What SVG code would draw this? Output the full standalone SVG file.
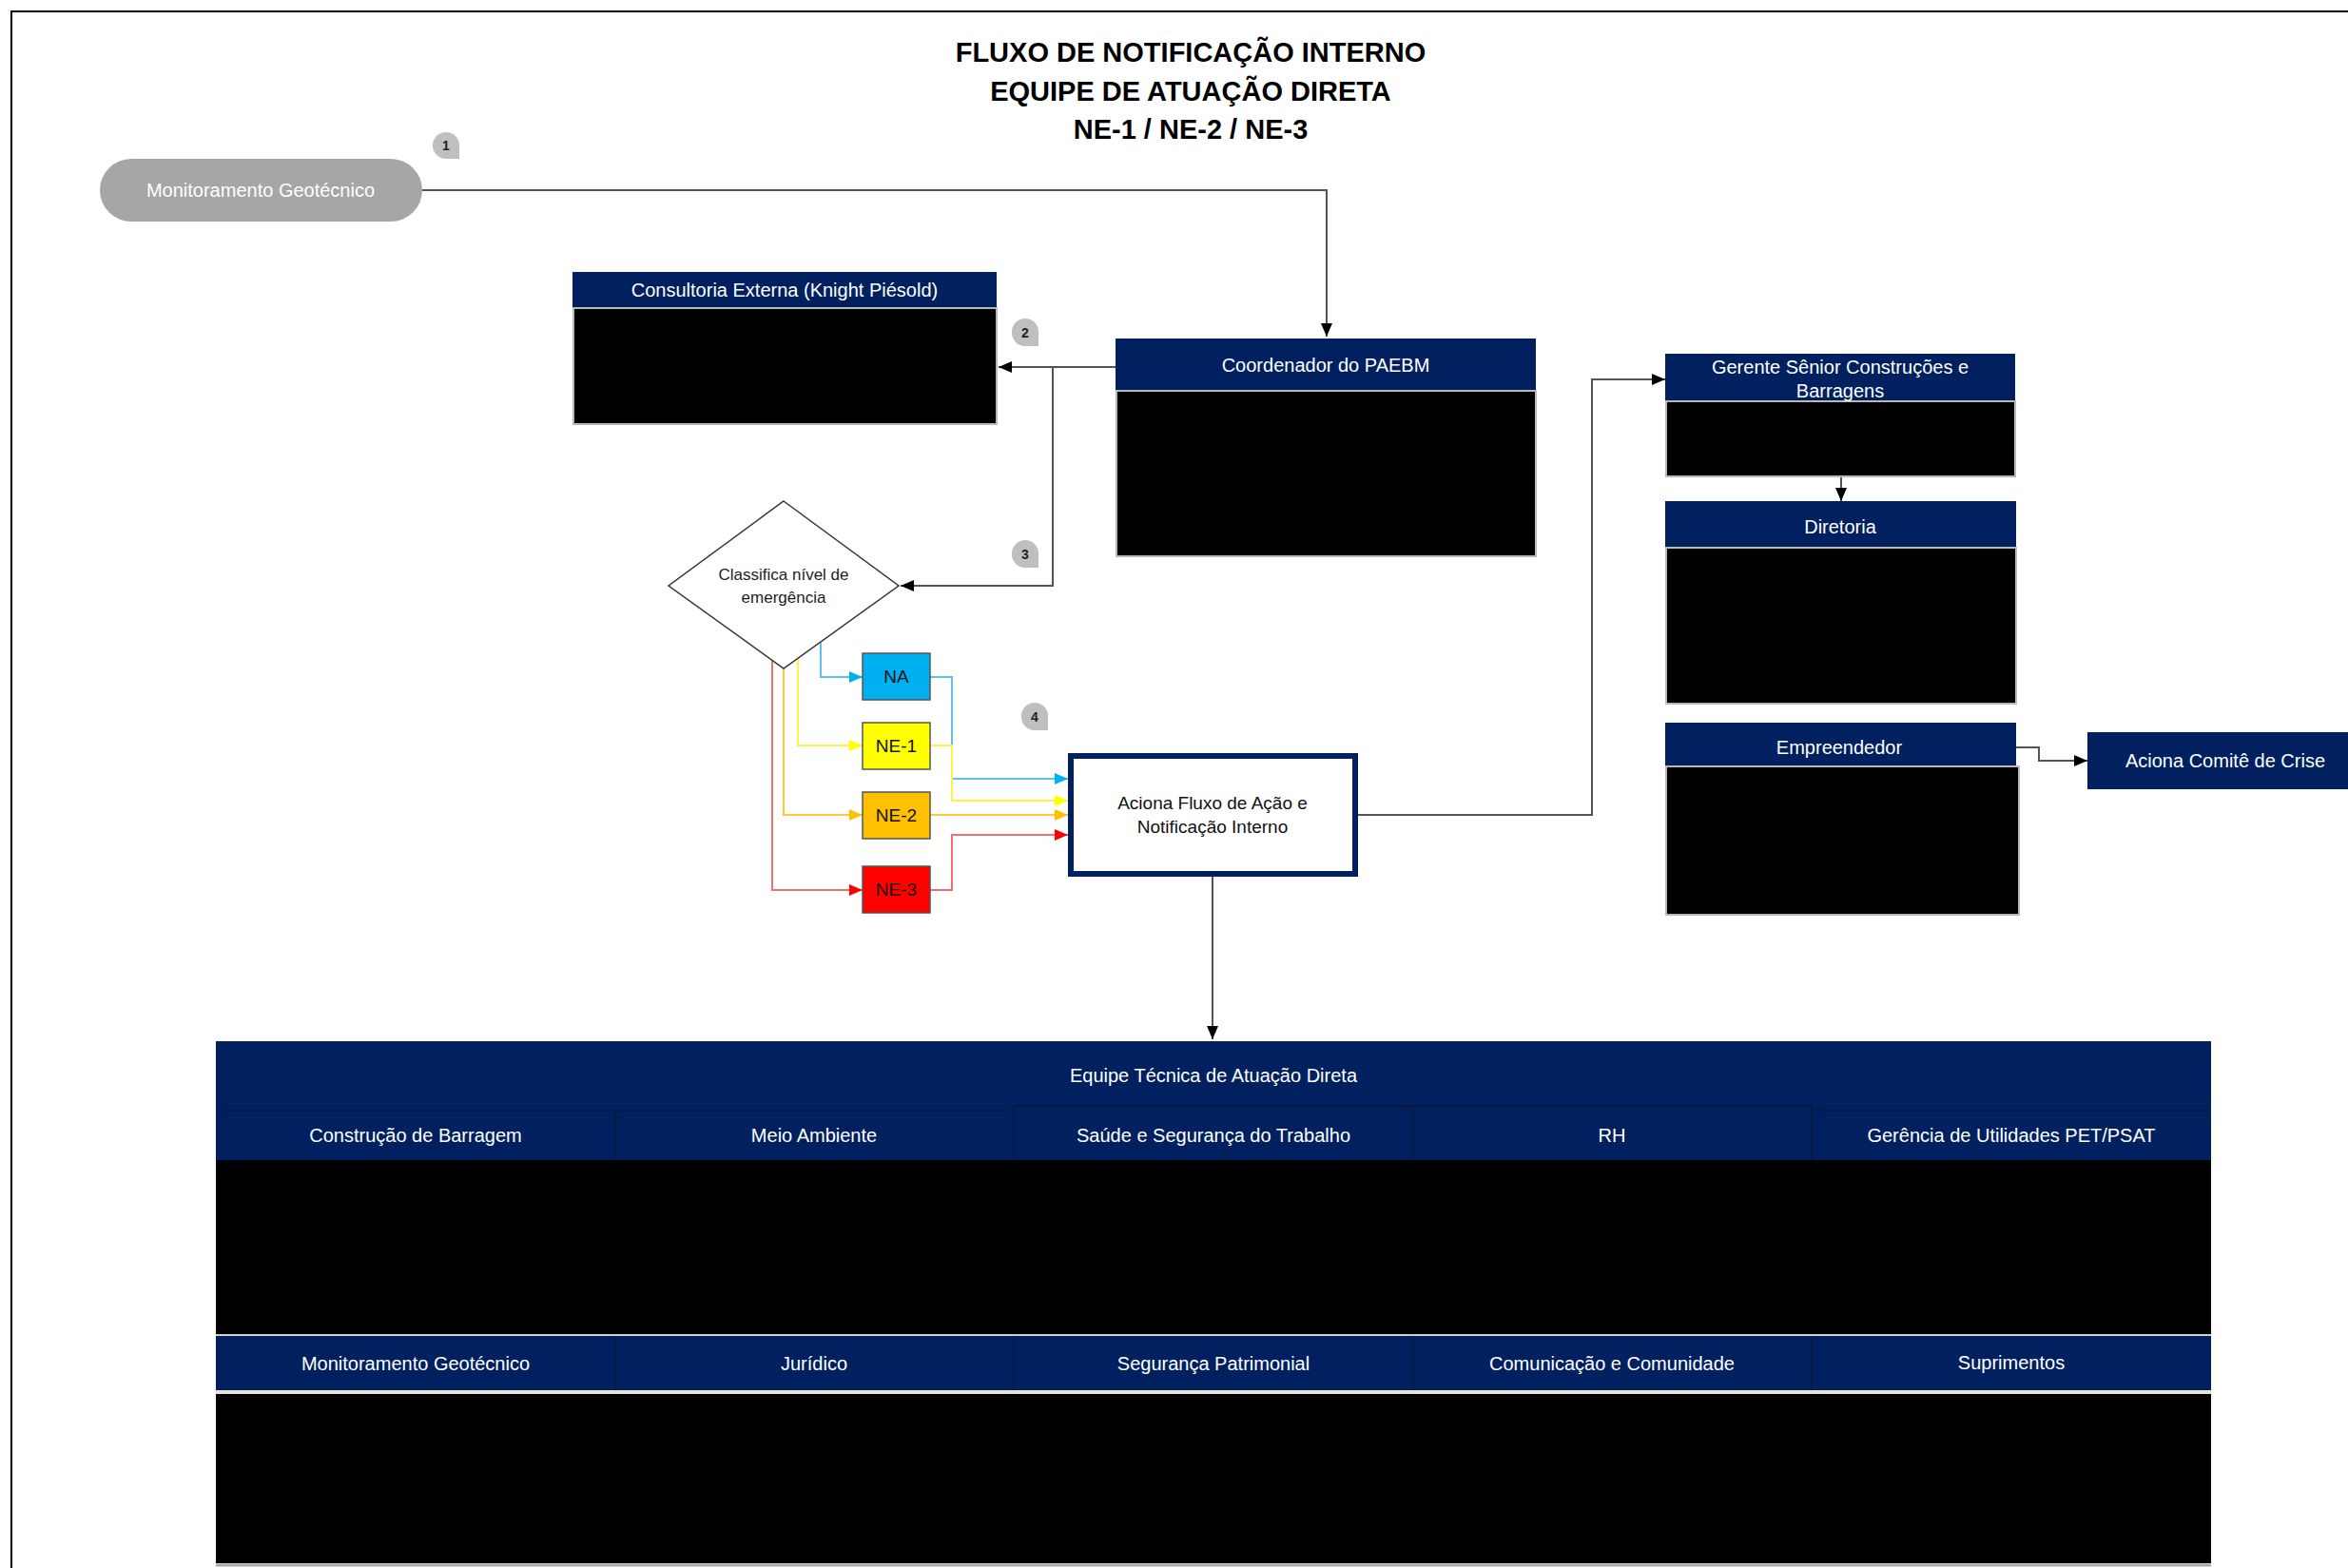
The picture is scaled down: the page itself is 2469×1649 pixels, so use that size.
<svg xmlns="http://www.w3.org/2000/svg" width="2469" height="1649" viewBox="0 0 2469 1649">
<defs>
<style>
text{font-family:"Liberation Sans",Arial,sans-serif;}
.t{font-size:20px;fill:#ffffff;text-anchor:middle;}
.td{font-size:19px;fill:#111111;text-anchor:middle;}
.title{font-size:29px;font-weight:bold;fill:#000;text-anchor:middle;}
.hd{fill:#002060;}
.body{fill:#000000;stroke:#b8b8b8;stroke-width:2;}
.badge{fill:#bfbfbf;}
.bn{font-size:14px;font-weight:bold;fill:#222;text-anchor:middle;}
.ln{fill:none;stroke:#555;stroke-width:2;}
.c{fill:none;stroke-width:2;}
</style>
<marker id="ab" markerUnits="userSpaceOnUse" markerWidth="14" markerHeight="12" refX="14" refY="6" orient="auto"><path d="M0,0 L14,6 L0,12 z" fill="#000"/></marker>
<marker id="ablue" markerUnits="userSpaceOnUse" markerWidth="14" markerHeight="12" refX="14" refY="6" orient="auto"><path d="M0,0 L14,6 L0,12 z" fill="#00b0f0"/></marker>
<marker id="ayel" markerUnits="userSpaceOnUse" markerWidth="14" markerHeight="12" refX="14" refY="6" orient="auto"><path d="M0,0 L14,6 L0,12 z" fill="#ffff00"/></marker>
<marker id="aor" markerUnits="userSpaceOnUse" markerWidth="14" markerHeight="12" refX="14" refY="6" orient="auto"><path d="M0,0 L14,6 L0,12 z" fill="#ffc000"/></marker>
<marker id="ared" markerUnits="userSpaceOnUse" markerWidth="14" markerHeight="12" refX="14" refY="6" orient="auto"><path d="M0,0 L14,6 L0,12 z" fill="#ff0000"/></marker>
</defs>
<rect x="0" y="0" width="2469" height="1649" fill="#ffffff"/>
<path d="M12,1649 V12 H2469" fill="none" stroke="#000" stroke-width="2"/>

<g id="title">
<text class="title" x="1252" y="65">FLUXO DE NOTIFICAÇÃO INTERNO</text>
<text class="title" x="1252" y="106">EQUIPE DE ATUAÇÃO DIRETA</text>
<text class="title" x="1252" y="146">NE-1 / NE-2 / NE-3</text>
</g>

<g id="badges">
<g id="badge-1"><path class="badge" d="M469,139 a14,14 0 0 1 14,14 V167 H469 a14,14 0 0 1 0,-28 z"/><text class="bn" x="469" y="158">1</text></g>
<g id="badge-2"><path class="badge" d="M1078,335 a14,14 0 0 1 14,14 V364 H1078 a14,14 0 0 1 -14,-14 V349 a14,14 0 0 1 14,-14 z"/><text class="bn" x="1078" y="355">2</text></g>
<g id="badge-3"><path class="badge" d="M1078,568 a14,14 0 0 1 14,14 V597 H1078 a14,14 0 0 1 -14,-14 V582 a14,14 0 0 1 14,-14 z"/><text class="bn" x="1078" y="588">3</text></g>
<g id="badge-4"><path class="badge" d="M1088,739 a14,14 0 0 1 14,14 V768 H1088 a14,14 0 0 1 -14,-14 V753 a14,14 0 0 1 14,-14 z"/><text class="bn" x="1088" y="759">4</text></g>
</g>

<g id="connectors">
<path class="ln" d="M444,200 H1395 V354" marker-end="url(#ab)"/>
<path class="ln" d="M1173,386 H1050" marker-end="url(#ab)"/>
<path class="ln" d="M1107,386 V616 H947" marker-end="url(#ab)"/>
<path class="c" stroke="#5cc3ee" d="M863,676 V712 H907" marker-end="url(#ablue)"/>
<path class="c" stroke="#fff04a" d="M839,693 V784 H907" marker-end="url(#ayel)"/>
<path class="c" stroke="#ffc83a" d="M824,703 V857 H907" marker-end="url(#aor)"/>
<path class="c" stroke="#f07070" d="M812,695 V936 H907" marker-end="url(#ared)"/>
<path class="c" stroke="#5cc3ee" d="M978,712 H1001 V819 H1123" marker-end="url(#ablue)"/>
<path class="c" stroke="#fff04a" d="M978,784 H1001 V842 H1123" marker-end="url(#ayel)"/>
<path class="c" stroke="#ffc83a" d="M978,857 H1123" marker-end="url(#aor)"/>
<path class="c" stroke="#f07070" d="M978,936 H1001 V878 H1123" marker-end="url(#ared)"/>
<path class="ln" d="M1275,922 V1093" marker-end="url(#ab)"/>
<path class="ln" d="M1428,857 H1674 V399 H1751" marker-end="url(#ab)"/>
<path class="ln" d="M1936,501 V527" marker-end="url(#ab)"/>
<path class="ln" d="M2120,786 H2144 V800 H2195" marker-end="url(#ab)"/>
</g>

<g id="node-monitoramento">
<rect x="105" y="167" width="339" height="66" rx="33" fill="#a6a6a6"/>
<text class="t" x="274" y="207">Monitoramento Geotécnico</text>
</g>

<g id="node-consultoria">
<rect class="hd" x="602" y="286" width="446" height="38"/>
<rect class="body" x="603" y="324" width="445" height="122"/>
<text class="t" x="825" y="312">Consultoria Externa (Knight Piésold)</text>
</g>

<g id="node-coordenador">
<rect class="hd" x="1173" y="356" width="442" height="55"/>
<rect class="body" x="1174" y="411" width="441" height="174"/>
<text class="t" x="1394" y="391">Coordenador do PAEBM</text>
</g>

<g id="node-classifica">
<polygon points="824,527 945,616 824,703 703,616" fill="#fff" stroke="#333" stroke-width="1.5"/>
<text font-size="17" fill="#222" text-anchor="middle"><tspan x="824" y="610">Classifica nível de</tspan><tspan x="824" y="634">emergência</tspan></text>
</g>

<g id="node-na"><rect x="907" y="687" width="71" height="49" fill="#00b0f0" stroke="#555" stroke-width="1.5"/><text class="td" x="942.5" y="718">NA</text></g>
<g id="node-ne1"><rect x="907" y="760" width="71" height="49" fill="#ffff00" stroke="#555" stroke-width="1.5"/><text class="td" x="942.5" y="791">NE-1</text></g>
<g id="node-ne2"><rect x="907" y="833" width="71" height="49" fill="#ffc000" stroke="#555" stroke-width="1.5"/><text class="td" x="942.5" y="864">NE-2</text></g>
<g id="node-ne3"><rect x="907" y="911" width="71" height="49" fill="#ff0000" stroke="#555" stroke-width="1.5"/><text class="td" x="942.5" y="942">NE-3</text></g>

<g id="node-aciona-fluxo">
<rect x="1126" y="795" width="299" height="124" fill="#fff" stroke="#002060" stroke-width="6"/>
<text class="td" x="1275" y="851">Aciona Fluxo de Ação e</text>
<text class="td" x="1275" y="876">Notificação Interno</text>
</g>

<g id="node-gerente">
<rect class="hd" x="1751" y="372" width="368" height="50"/>
<rect class="body" x="1752" y="422" width="367" height="79"/>
<text class="t" x="1935" y="393" font-size="19">Gerente Sênior Construções e</text>
<text class="t" x="1935" y="418" font-size="19">Barragens</text>
</g>

<g id="node-diretoria">
<rect class="hd" x="1751" y="527" width="369" height="49"/>
<rect class="body" x="1752" y="576" width="368" height="164"/>
<text class="t" x="1935" y="561">Diretoria</text>
</g>

<g id="node-empreendedor">
<rect class="hd" x="1751" y="760" width="369" height="46"/>
<rect class="body" x="1752" y="806" width="371" height="156"/>
<text class="t" x="1934" y="793">Empreendedor</text>
</g>

<g id="node-comite">
<rect class="hd" x="2195" y="770" width="290" height="60"/>
<text class="t" x="2340" y="807">Aciona Comitê de Crise</text>
</g>

<g id="node-equipe">
<rect class="hd" x="227" y="1095" width="2098" height="73"/>
<text class="t" x="1276" y="1138">Equipe Técnica de Atuação Direta</text>
<rect class="hd" x="227" y="1168" width="2098" height="52"/>
<path d="M1066,1163 H1905" stroke="#0a1838" stroke-width="2"/>
<path d="M227,1168 H1066 M1905,1168 H2325" stroke="#0a1838" stroke-width="1.5"/>
<path d="M647,1168 V1220 M1066,1163 V1220 M1486,1163 V1220 M1905,1163 V1220" stroke="#0a1838" stroke-width="1.5"/>
<text class="t" x="437" y="1201" font-size="19">Construção de Barragem</text>
<text class="t" x="856" y="1201" font-size="19">Meio Ambiente</text>
<text class="t" x="1276" y="1201" font-size="19">Saúde e Segurança do Trabalho</text>
<text class="t" x="1695" y="1201" font-size="19">RH</text>
<text class="t" x="2115" y="1201" font-size="19">Gerência de Utilidades PET/PSAT</text>
<rect x="227" y="1220" width="2098" height="183" fill="#000"/>
<path d="M227,1404 H2325" stroke="#d0d0d0" stroke-width="2"/>
<rect class="hd" x="227" y="1405" width="2098" height="57"/>
<path d="M647,1405 V1462 M1066,1405 V1462 M1486,1405 V1462 M1905,1405 V1462" stroke="#0a1838" stroke-width="1.5"/>
<text class="t" x="437" y="1441" font-size="19">Monitoramento Geotécnico</text>
<text class="t" x="856" y="1441" font-size="19">Jurídico</text>
<text class="t" x="1276" y="1441" font-size="19">Segurança Patrimonial</text>
<text class="t" x="1695" y="1441" font-size="19">Comunicação e  Comunidade</text>
<text class="t" x="2115" y="1440" font-size="19">Suprimentos</text>
<path d="M227,1464 H2325" stroke="#e8e4da" stroke-width="4"/>
<rect x="227" y="1466" width="2098" height="178" fill="#000"/>
<path d="M227,1646 H2325" stroke="#aaaaaa" stroke-width="3"/>
</g>
</svg>
